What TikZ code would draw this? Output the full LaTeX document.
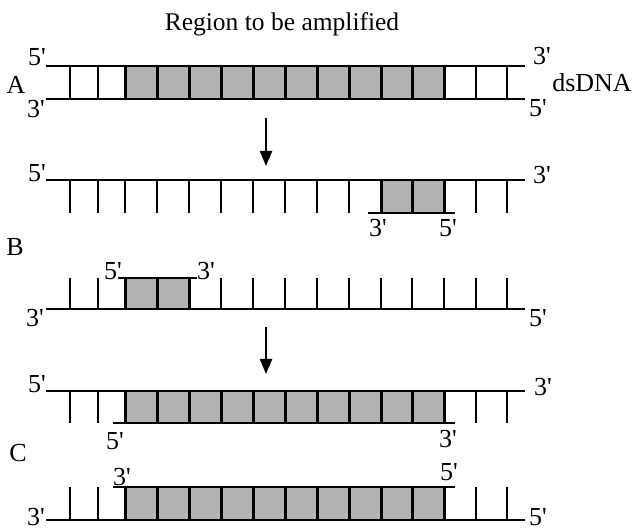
\documentclass[tikz,border=0pt]{standalone}
\usepackage{fontspec}
\setmainfont{Liberation Serif}
\usetikzlibrary{arrows.meta}
\definecolor{cellgrey}{RGB}{178,178,178}
\newcommand\fivep{5\textquotesingle}
\newcommand\threep{3\textquotesingle}
\tikzset{
  strand/.style={line width=2.6pt},
  rung/.style={line width=2.3pt},
  cellrung/.style={line width=3pt},
  lbl/.style={inner sep=0pt,font=\fontsize{26}{29}\selectfont},
  stepdown/.style={-{Triangle[length=15pt,width=12pt]},line width=2.3pt}
}

\begin{document}
\begin{tikzpicture}[x=1pt,y=-1pt]
  \useasboundingbox (0,0) rectangle (633,532);
  \node[lbl,anchor=base,font=\fontsize{25.5}{29}\selectfont] (title) at (282,31) {Region to be amplified};

  % A: double strand
  \fill[cellgrey] (125,66) rectangle (444,99);
  \foreach \x in {70,98,476,507} \draw[rung] (\x,66) -- (\x,99);
  \foreach \x in {125,157,189,221,253,285,317,349,381,412,444} \draw[cellrung] (\x,66) -- (\x,99);
  \draw[strand] (46,66) -- (525,66);
  \draw[strand] (46,99) -- (525,99);
  \node[lbl] (a5l) at (37,57) {\fivep};
  \node[lbl] (a3l) at (36,109) {\threep};
  \node[lbl] (a3r) at (542,56) {\threep};
  \node[lbl] (a5r) at (538,108) {\fivep};
  \node[lbl] (alabel) at (16,85) {A};
  \node[lbl] (dsdna) at (592,83) {dsDNA};

  \coordinate (arrAtop) at (266,118);
  \coordinate (arrAtip) at (266,166);
  \draw[stepdown] (arrAtop) -- (arrAtip);

  % B: upper strand with primer
  \fill[cellgrey] (381,180) rectangle (444,213);
  \foreach \x in {70,98,125,157,189,221,253,285,317,349,476,507} \draw[rung] (\x,180) -- (\x,213);
  \foreach \x in {381,412,444} \draw[cellrung] (\x,180) -- (\x,213);
  \draw[strand] (46,180) -- (525,180);
  \draw[strand] (368,213) -- (455,213);
  \node[lbl] (bu5l) at (37,173) {\fivep};
  \node[lbl] (bu3r) at (542,175) {\threep};
  \node[lbl] (bp3) at (378,228) {\threep};
  \node[lbl] (bp5) at (448,228) {\fivep};
  \node[lbl] (blabel) at (15,247) {B};

  % B: lower strand with primer
  \fill[cellgrey] (125,278) rectangle (189,309);
  \foreach \x in {70,98,221,253,285,317,349,381,412,444,476,507} \draw[rung] (\x,278) -- (\x,309);
  \foreach \x in {125,157,189} \draw[cellrung] (\x,278) -- (\x,309);
  \draw[strand] (46,309) -- (525,309);
  \draw[strand] (118,278) -- (197,278);
  \node[lbl] (bq5) at (113,271) {\fivep};
  \node[lbl] (bq3) at (206,271) {\threep};
  \node[lbl] (bl3l) at (35,318) {\threep};
  \node[lbl] (bl5r) at (538,318) {\fivep};

  \coordinate (arrBtop) at (266,327);
  \coordinate (arrBtip) at (266,374);
  \draw[stepdown] (arrBtop) -- (arrBtip);

  % C: upper strand extended
  \fill[cellgrey] (125,391) rectangle (444,423);
  \foreach \x in {70,98,476,507} \draw[rung] (\x,391) -- (\x,423);
  \foreach \x in {125,157,189,221,253,285,317,349,381,412,444} \draw[cellrung] (\x,391) -- (\x,423);
  \draw[strand] (46,391) -- (525,391);
  \draw[strand] (113,423) -- (455,423);
  \node[lbl] (cu5l) at (37,384) {\fivep};
  \node[lbl] (cu3r) at (543,387) {\threep};
  \node[lbl] (cp5) at (115,441) {\fivep};
  \node[lbl] (cp3) at (448,439) {\threep};
  \node[lbl] (clabel) at (18,453) {C};

  % C: lower strand extended
  \fill[cellgrey] (125,487) rectangle (444,520);
  \foreach \x in {70,98,476,507} \draw[rung] (\x,487) -- (\x,520);
  \foreach \x in {125,157,189,221,253,285,317,349,381,412,444} \draw[cellrung] (\x,487) -- (\x,520);
  \draw[strand] (46,520) -- (525,520);
  \draw[strand] (113,487) -- (455,487);
  \node[lbl] (cq3) at (122,477) {\threep};
  \node[lbl] (cq5) at (449,472) {\fivep};
  \node[lbl] (cl3l) at (36,517) {\threep};
  \node[lbl] (cl5r) at (538,517) {\fivep};
\end{tikzpicture}
\end{document}
